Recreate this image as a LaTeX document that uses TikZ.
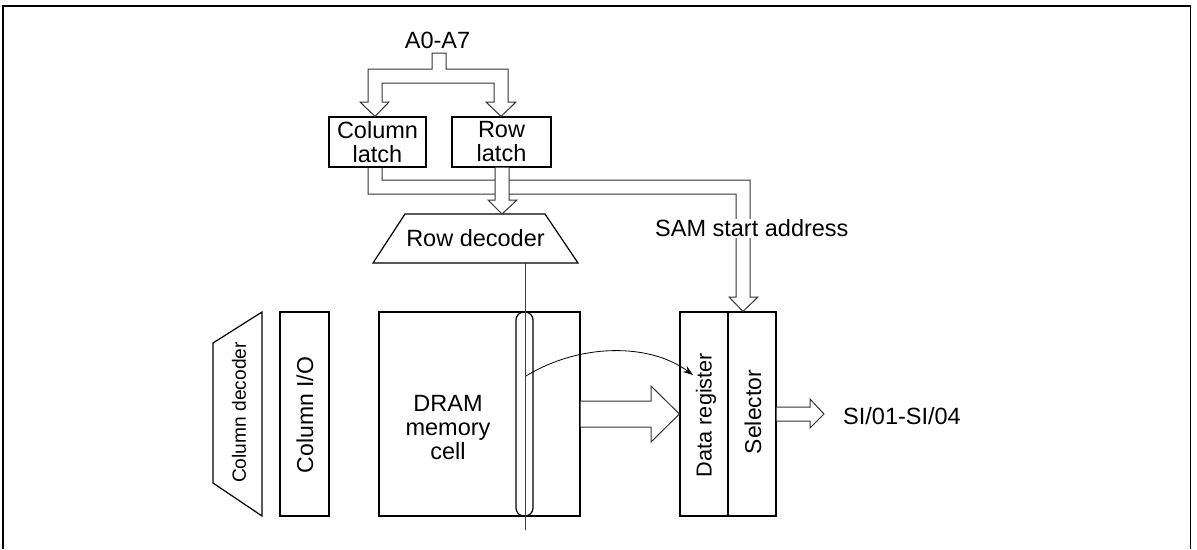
\documentclass[tikz,border=0pt]{standalone}
\usepackage{fontspec}
\setmainfont{Liberation Sans}
\usetikzlibrary{arrows.meta}
\begin{document}
\begin{tikzpicture}[x=1pt,y=-1pt,line join=miter,
  box/.style={draw=black,line width=1.2pt},
  bus/.style={draw=black!80,line width=1pt,fill=white},
  wire/.style={draw=black!75,line width=0.9pt},
  lbl/.style={font=\fontsize{23.5}{24}\selectfont,inner sep=0pt,align=center},
  vlbl/.style={inner sep=0pt,rotate=90}]
\useasboundingbox (0,0) rectangle (1197,549);
% frame
\draw[line width=1.5pt] (3,549) -- (3,6) -- (1190.5,6) -- (1190.5,549);

% boxes
\node[box,lbl,minimum width=97pt,minimum height=50pt] (clatch) at (377.5,142) {Column\\latch};
\node[box,lbl,minimum width=99pt,minimum height=50pt] (rlatch) at (501.5,142) {Row\\latch};
\node[lbl] (atext) at (437.5,40) {A0-A7};

% row decoder trapezoid
\coordinate (rdtop) at (502,214);
\coordinate (rdbot) at (525,263);
\draw[box] (405,214) -- (545,214) -- (578,263) -- (373,263) -- cycle;
\node[lbl] (rdec) at (475.5,238.5) {Row decoder};

% address bus from A0-A7 to latches
\draw[bus] (432,69) -- (432,53) -- (446,53) -- (446,69) -- (508,69) -- (508,102) -- (516,102)
  -- (501,0 |- rlatch.north) -- (486,102) -- (494,102) -- (494,83) -- (382,83) -- (382,102)
  -- (389,102) -- (375,0 |- clatch.north) -- (360,102) -- (368,102) -- (368,69) -- cycle;

% memory array
\node[box,minimum width=201pt,minimum height=204pt] (mem) at (479.5,414) {};
\node[lbl] (memtext) at (448,428) {DRAM\\memory\\cell};
\draw[box,rounded corners=8pt] (516,312) rectangle (533,516);
\coordinate (wend) at (525,530);
\draw[wire] (rdbot) -- (wend);

% column I/O and decoder
\node[box,minimum width=49pt,minimum height=204pt] (colio) at (304.5,414) {};
\node[vlbl,font=\fontsize{23}{24}\selectfont] (coliotext) at (305,415) {Column I/O};
\draw[box] (262,312) -- (262,516) -- (213,483) -- (213,343) -- cycle;
\node[vlbl,font=\fontsize{19.2}{21}\selectfont] (cdec) at (239,412.5) {Column decoder};

% data register and selector
\node[box,minimum width=48pt,minimum height=204pt] (dreg) at (704,414) {};
\node[box,minimum width=48pt,minimum height=204pt] (sel) at (752,414) {};
\node[vlbl,font=\fontsize{21.7}{24}\selectfont] (dregtext) at (706,415) {Data register};
\node[vlbl,font=\fontsize{22.9}{24}\selectfont] (seltext) at (753,412) {Selector};

% bus from column latch to selector (SAM start address)
\draw[bus,fill=none] (368,0 |- clatch.south) -- (368,194) -- (736,194) -- (736,297) -- (729,297)
  -- (743,0 |- sel.north) -- (758,297) -- (750,297) -- (750,180) -- (382,180) -- (382,0 |- clatch.south);
% bus from row latch to row decoder
\draw[bus] (495,0 |- rlatch.south) -- (495,200) -- (488,200) -- (rdtop) -- (517,200)
  -- (509,200) -- (509,0 |- rlatch.south);

\node[lbl,anchor=west,fill=white,inner ysep=1pt] (sam) at (655,228.5) {SAM start address};

% transfer arrow memory -> data register
\draw[bus] (mem.east |- 0,401) -- (651,401) -- (651,386) -- (dreg.west |- 0,414) -- (651,442)
  -- (651,427) -- (mem.east |- 0,427);
% curved arrow
\coordinate (cstart) at (526,376);
\coordinate (cend) at (693,375);
\draw[line width=0.8pt,-{Stealth[length=10pt,width=7pt]}] (cstart) .. controls (578,344) and (648,342) .. (cend);

% output arrow
\draw[bus] (sel.east |- 0,407) -- (810,407) -- (810,399) -- (824,414) -- (810,428) -- (810,421)
  -- (sel.east |- 0,421);
\node[lbl,anchor=west] (sio) at (843,416) {SI/01-SI/04};
\end{tikzpicture}
\end{document}
